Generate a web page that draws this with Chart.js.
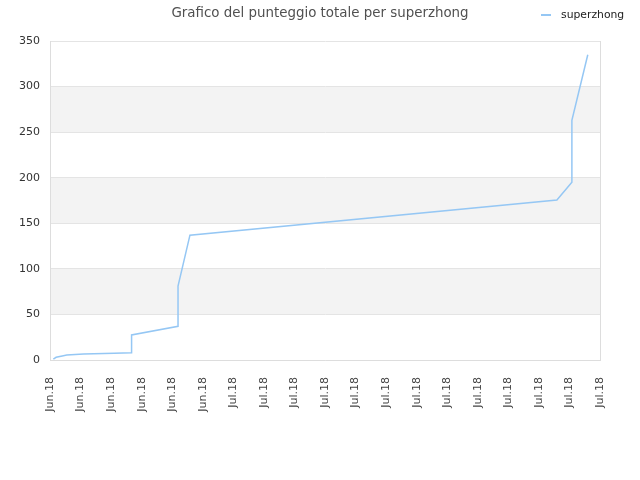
<!DOCTYPE html>
<html>
<head>
<meta charset="utf-8">
<script src="https://cdn.jsdelivr.net/npm/chart.js@4.4.0/dist/chart.umd.min.js"></script>
<style>
  html, body { margin: 0; padding: 0; background: #fff; }
</style>
</head>
<body>
<canvas id="score-chart" width="640" height="480"></canvas>
<script>
const playerName = "superzhong";
const chartTitle = "Grafico del punteggio totale per superzhong";

// x tick labels, one per tick (0..18)
const tickLabels = [
  "Jun.18", "Jun.18", "Jun.18", "Jun.18", "Jun.18", "Jun.18",
  "Jul.18", "Jul.18", "Jul.18", "Jul.18", "Jul.18", "Jul.18", "Jul.18",
  "Jul.18", "Jul.18", "Jul.18", "Jul.18", "Jul.18", "Jul.18"
];
const yTicks = [0, 50, 100, 150, 200, 250, 300, 350];

// position of each point along the time axis (in tick units) and the total score
const dayPos = [0.11, 0.2, 0.4, 0.55, 1.1, 2.1, 2.67, 2.67, 4.19, 4.19, 4.58, 16.59, 17.08, 17.08, 17.6];
const totalScore = [1, 3, 4.5, 5.5, 6.5, 7.5, 8, 27.5, 37, 81, 137, 175.5, 195, 263, 335];

Chart.defaults.font.family = "DejaVu Sans";

// grey bands behind every other grid row
const bandsPlugin = {
  id: "bands",
  beforeDraw(chart) {
    const { ctx, chartArea } = chart;
    const y = chart.scales.y;
    ctx.save();
    ctx.fillStyle = "#f3f3f3";
    for (let i = 1; i < yTicks.length - 1; i += 2) {
      const top = y.getPixelForValue(yTicks[i + 1]);
      const bottom = y.getPixelForValue(yTicks[i]);
      ctx.fillRect(chartArea.left, top, chartArea.right - chartArea.left, bottom - top);
    }
    ctx.restore();
  },
};

// legend entry sits on the same row as the title
const legendPlugin = {
  id: "sideLegend",
  afterDraw(chart) {
    const { ctx } = chart;
    const ds = chart.data.datasets[0];
    ctx.save();
    ctx.strokeStyle = ds.borderColor;
    ctx.lineWidth = 2;
    ctx.beginPath();
    ctx.moveTo(541, 15);
    ctx.lineTo(551, 15);
    ctx.stroke();
    ctx.fillStyle = "#222";
    ctx.font = "10.8px 'DejaVu Sans'";
    ctx.textBaseline = "middle";
    ctx.fillText(ds.label, 561, 15);
    ctx.restore();
  },
};

const scoreCanvas = document.getElementById("score-chart");

let scoreChart = new Chart(scoreCanvas, {
  type: "line",
  data: {
    datasets: [
      {
        label: playerName,
        data: dayPos.map((d, i) => ({ x: d, y: totalScore[i] })),
        borderColor: "#95c7f4",
        backgroundColor: "#95c7f4",
        borderWidth: 1.5,
        pointRadius: 0,
        tension: 0,
        fill: false,
      },
    ],
  },
  options: {
    responsive: false,
    animation: false,
    layout: { padding: 0 },
    plugins: {
      legend: { display: false },
      tooltip: { enabled: false },
      title: {
        display: true,
        text: chartTitle,
        color: "#505050",
        font: { size: 13.4, weight: "normal" },
        padding: { top: 5, bottom: 20 },
      },
    },
    scales: {
      x: {
        type: "linear",
        min: 0,
        max: tickLabels.length - 1,
        ticks: {
          stepSize: 1,
          autoSkip: false,
          maxRotation: 90,
          minRotation: 90,
          padding: 9,
          color: "#444",
          font: { size: 11 },
          callback: (value) => tickLabels[value],
        },
        grid: { display: false },
        border: { color: "#ddd" },
        afterFit: (scale) => {
          scale.height = 120;
        },
      },
      y: {
        min: yTicks[0],
        max: yTicks[yTicks.length - 1],
        afterBuildTicks: (scale) => {
          scale.ticks = yTicks.map((v) => ({ value: v }));
        },
        ticks: {
          padding: 10,
          color: "#333",
          font: { size: 11 },
        },
        grid: { color: "#e4e4e4", drawTicks: false },
        border: { color: "#ddd" },
        afterFit: (scale) => {
          scale.width = 50;
        },
      },
      y2: {
        position: "right",
        min: 0,
        max: 350,
        ticks: { display: false },
        grid: { display: false, drawTicks: false },
        border: { display: true, color: "#ddd" },
        afterFit: (scale) => {
          scale.width = 40;
        },
      },
    },
  },
  plugins: [bandsPlugin, legendPlugin],
});
</script>
</body>
</html>
